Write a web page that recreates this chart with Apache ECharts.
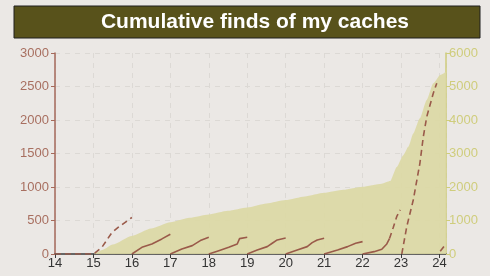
<!DOCTYPE html>
<html>
<head>
<meta charset="utf-8">
<script src="https://cdn.jsdelivr.net/npm/echarts@6/dist/echarts.min.js"></script>
<style>
html,body{margin:0;padding:0;background:#ebe8e5;}
#main{width:490px;height:276px;}
</style>
</head>
<body>
<div id="main"></div>
<script>
// x = year (14..24), y = finds in that year (left axis)
var y2015 = [[14,0],[15,0],[15.22,100],[15.48,320],[15.65,400],[16,545]];
var y2016 = [[16,0],[16.26,100],[16.52,150],[16.78,225],[17,295]];
var y2017 = [[17,0],[17.3,75],[17.57,125],[17.78,200],[18,250]];
var y2018 = [[18,0],[18.26,50],[18.52,100],[18.74,150],[18.8,230],[19,250]];
var y2019 = [[19,0],[19.26,60],[19.52,110],[19.65,160],[19.78,210],[20,240]];
var y2020 = [[20,0],[20.3,60],[20.56,110],[20.69,170],[20.82,210],[21,235]];
var y2021 = [[21,0],[21.35,60],[21.61,110],[21.82,160],[22,185]];
var y2022 = [[22,0],[22.3,35],[22.5,70],[22.63,150],[22.7,230]];
var y2022b = [[22.7,230],[22.8,400],[22.89,560],[22.98,660]];
var y2023 = [[23.02,0],[23.15,410],[23.32,810],[23.49,1350],[23.58,1750],[23.67,2050],[23.84,2400],[23.93,2550]];
var y2024 = [[24.02,40],[24.15,135]];
// total finds (right axis)
var total = [[15,0],[15.25,130],[15.5,280],[16,540],[16.5,760],[17,950],[17.5,1080],[18,1180],[18.5,1290],[19,1390],[19.5,1510],[20,1612],[20.5,1720],[21,1830],[21.5,1920],[22,2010],[22.5,2100],[22.72,2180],[22.89,2600],[23.06,2950],[23.19,3200],[23.32,3600],[23.49,4050],[23.67,4600],[23.84,5095],[24.02,5343],[24.17,5440]];

var lineColor = '#9a5a4a';
function yearLine(data, dashed){
	return {
		type:'line',
		yAxisIndex:0,
		data:data,
		showSymbol:false,
		symbol:'none',
		z:3,
		lineStyle:{color:lineColor,width:1.6,type:dashed ? [6,4] : 'solid'}
	};
}

var myChart = echarts.init(document.getElementById('main'));
var option = {
	animation:false,
	backgroundColor:'#ebe8e5',
	graphic:[{
		type:'rect',
		shape:{x:14,y:6,width:466,height:32},
		style:{fill:'#58521b',stroke:'#1e1e1e',lineWidth:1}
	},{
		type:'text',
		x:255,y:22,
		style:{text:'Cumulative finds of my caches',fill:'#ffffff',font:'bold 21px "Liberation Sans", Arial, sans-serif',textAlign:'center',textVerticalAlign:'middle'}
	}],
	grid:{left:55,right:44,top:53,bottom:22},
	xAxis:{
		type:'value',min:14,max:24.17,interval:1,
		axisLine:{onZero:false,lineStyle:{color:'#3a3a3a',width:1.5}},
		axisTick:{inside:false,length:4,lineStyle:{color:'#3a3a3a'}},
		axisLabel:{color:'#333',fontSize:13,margin:3,showMaxLabel:false,fontFamily:'"Liberation Sans", Arial'},
		splitLine:{show:true,lineStyle:{color:'#dcd9d5',type:[5,5]}}
	},
	yAxis:[{
		type:'value',min:0,max:3000,interval:500,
		axisLine:{show:true,lineStyle:{color:'#a5695a',width:1.5}},
		axisTick:{show:true,length:4,lineStyle:{color:'#a5695a'}},
		axisLabel:{color:'#a86f60',fontSize:13,margin:6,fontFamily:'"Liberation Sans", Arial',formatter:function(v){return String(v);}},
		splitLine:{show:true,lineStyle:{color:'#dcd9d5',type:[5,5]}}
	},{
		type:'value',min:0,max:6000,interval:1000,position:'right',
		axisLine:{show:true,lineStyle:{color:'#cfcd7c',width:1.5}},
		axisTick:{show:true,length:4,lineStyle:{color:'#cfcd7c'}},
		axisLabel:{color:'#cfcd7c',fontSize:13,margin:3,fontFamily:'"Liberation Sans", Arial',formatter:function(v){return String(v);}},
		splitLine:{show:false}
	}],
	series:[{
		type:'line',
		yAxisIndex:1,
		data:total,
		smooth:0.2,
		smoothMonotone:'x',
		showSymbol:false,
		symbol:'none',
		z:1,
		lineStyle:{width:0},
		areaStyle:{color:'#dcd8a3',opacity:0.9}
	},
	yearLine(y2015,true),
	yearLine(y2016,false),
	yearLine(y2017,false),
	yearLine(y2018,false),
	yearLine(y2019,false),
	yearLine(y2020,false),
	yearLine(y2021,false),
	yearLine(y2022,false),
	yearLine(y2022b,true),
	yearLine(y2023,true),
	yearLine(y2024,true)
	]
};
myChart.setOption(option);
</script>
</body>
</html>
